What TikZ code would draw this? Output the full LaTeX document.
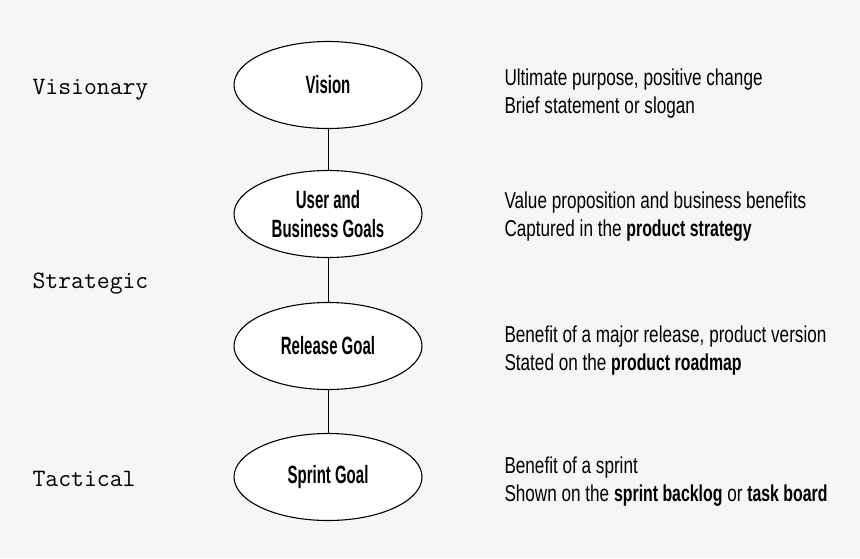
\documentclass[tikz,border=0pt]{standalone}
\usepackage{fontspec}
\setmainfont{Liberation Sans}[FakeStretch=0.745, BoldFeatures={FakeStretch=0.69}]
\newfontfamily\goalfont{Liberation Sans}[FakeStretch=0.6]
\usetikzlibrary{positioning, shapes.geometric}
\definecolor{bggray}{HTML}{F6F6F6}

\begin{document}
\begin{tikzpicture}[
    x=1pt, y=-1pt,
    % Define the style for the goal ellipses
    goal/.style={ellipse, draw, fill=white, line width=1.1pt, minimum width=188pt,
        minimum height=87pt, inner sep=0pt, align=center,
        font=\fontsize{25}{29}\selectfont\goalfont\bfseries},
    % Level names on the left and notes on the right
    level/.style={anchor=base west, inner sep=0pt, font=\fontsize{25}{25}\selectfont\ttfamily},
    note/.style={anchor=base west, inner sep=0pt, align=left, font=\fontsize{23}{28.5}\selectfont},
    line width=1pt
]

    % --- Canvas ---
    \fill[bggray] (0,0) rectangle (860,558);
    \useasboundingbox (0,0) rectangle (860,558);

    % --- The Goal Ellipses ---
    \node[goal] (vision) at (328,85) {Vision};
    \node[goal] (business) at (328,214) {User and\\Business Goals};
    \node[goal] (release) at (328,346) {Release Goal};
    \node[goal] (sprint) at (328,477) {Sprint Goal};

    % Draw the links between the goals
    \draw (vision) -- (business) -- (release) -- (sprint);

    % --- Levels ---
    \node[level] (visionary) at (32,94) {Visionary};
    \node[level] (strategic) at (32,288) {Strategic};
    \node[level] (tactical) at (32,486) {Tactical};

    % --- Notes (anchored on the baseline of their last line) ---
    \node[note] (visionnote) at (504,113.5)
        {Ultimate purpose, positive change\\Brief statement or slogan};
    \node[note] (businessnote) at (504,236.5)
        {Value proposition and business benefits\\Captured in the \textbf{product strategy}};
    \node[note] (releasenote) at (504,370.5)
        {Benefit of a major release, product version\\Stated on the \textbf{product roadmap}};
    \node[note] (sprintnote) at (504,501.5)
        {Benefit of a sprint\\Shown on the \textbf{sprint backlog} or \textbf{task board}};

\end{tikzpicture}
\end{document}
